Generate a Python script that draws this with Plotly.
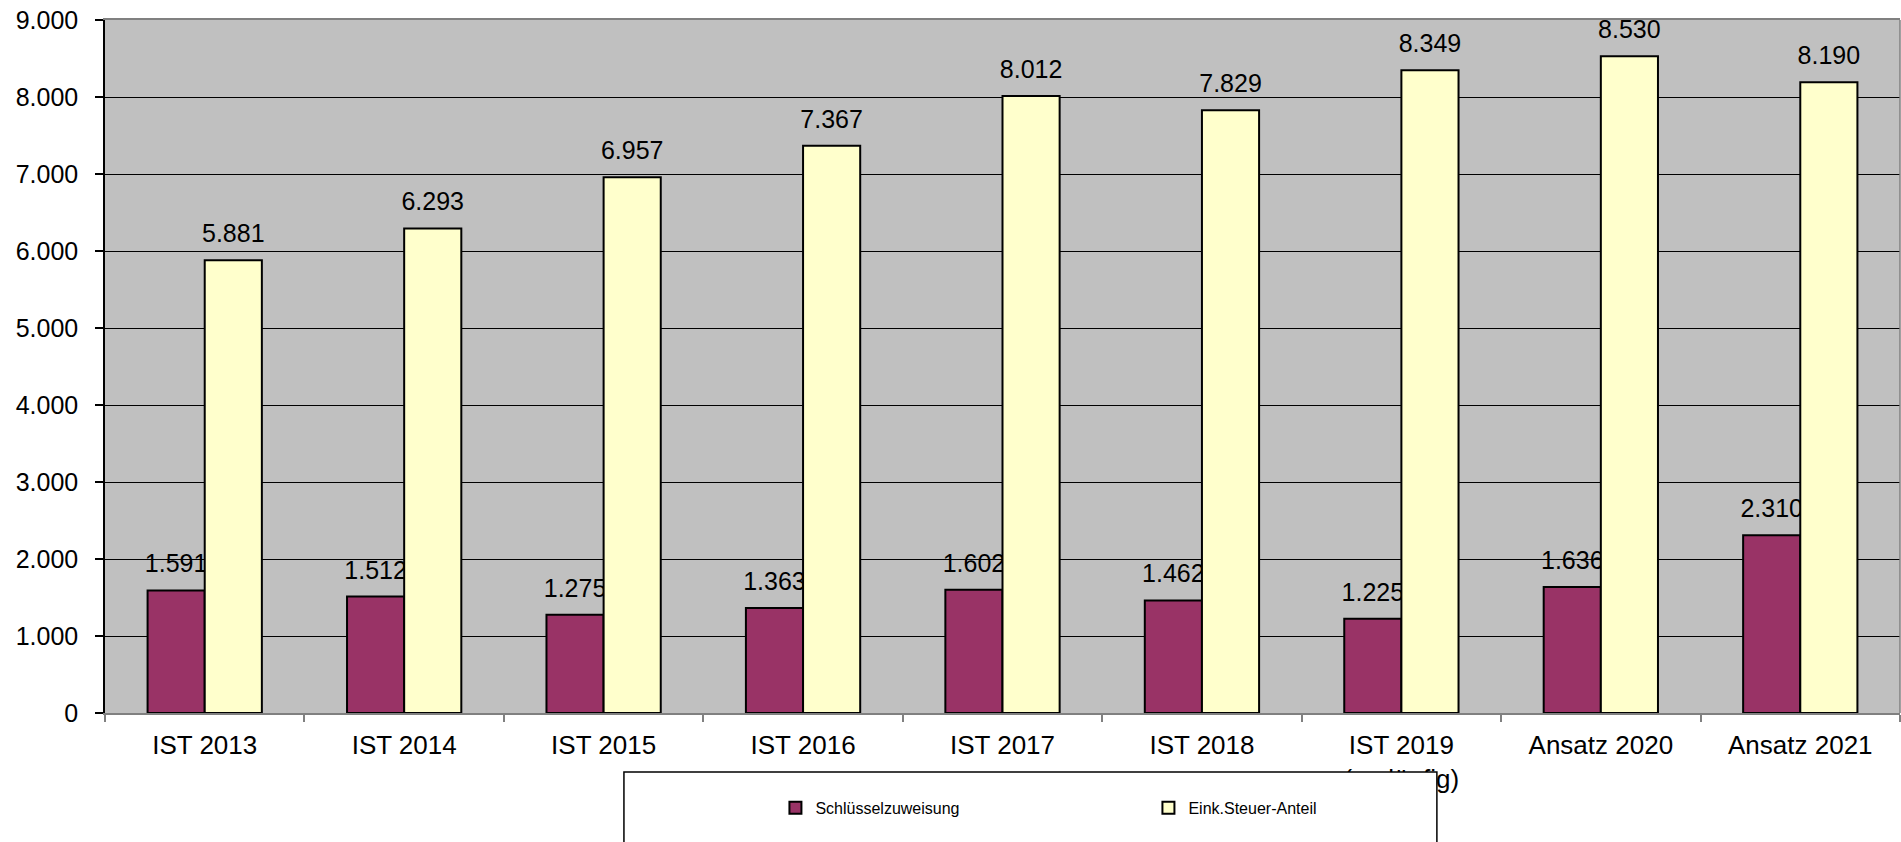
import plotly.graph_objects as go

categories = ["IST 2013", "IST 2014", "IST 2015", "IST 2016", "IST 2017",
              "IST 2018", "IST 2019<br>(vorläufig)", "Ansatz 2020", "Ansatz 2021"]
schluessel = [1591, 1512, 1275, 1363, 1602, 1462, 1225, 1636, 2310]
eink = [5881, 6293, 6957, 7367, 8012, 7829, 8349, 8530, 8190]
y_ticks = [0, 1000, 2000, 3000, 4000, 5000, 6000, 7000, 8000, 9000]

PURPLE = "#993366"
YELLOW = "#FFFFCC"
LABEL_PAD = 130  # data-unit gap between bar top and its value label
FONT = "Liberation Sans, Arial, sans-serif"

fig = go.Figure()

def add_series(name, values, color, group):
    fig.add_trace(go.Bar(
        x=categories, y=values, name=name, offsetgroup=group,
        marker=dict(color=color, line=dict(color="black", width=2)),
        showlegend=True,
    ))
    # invisible helper carrying the value label, sitting just above the bar
    fig.add_trace(go.Bar(
        x=categories, y=[LABEL_PAD] * len(values), base=values,
        offsetgroup=group, showlegend=False, hoverinfo="skip",
        marker=dict(color="rgba(0,0,0,0)", line=dict(width=0)),
        text=[f"{v:,}".replace(",", ".") for v in values],
        textposition="outside", constraintext="none", cliponaxis=False,
        textfont=dict(family=FONT, size=25, color="black"),
    ))

add_series("Schlüsselzuweisung", schluessel, PURPLE, "a")
add_series("Eink.Steuer-Anteil", eink, YELLOW, "b")

fig.update_layout(
    width=1901, height=842,
    margin=dict(l=105, r=1, t=20, b=129, autoexpand=False),
    paper_bgcolor="white", plot_bgcolor="#C0C0C0",
    barmode="group", bargap=0.427, bargroupgap=0,
    separators=",.",
    font=dict(family=FONT, color="black"),
    showlegend=True,
    legend=dict(
        orientation="h", x=0.3735, xanchor="left", y=-0.137, yanchor="middle",
        entrywidth=328, entrywidthmode="pixels",
        bgcolor="rgba(0,0,0,0)", borderwidth=0,
        font=dict(family=FONT, size=16),
    ),
    shapes=[
        dict(type="rect", xref="paper", yref="paper", x0=0.2891, x1=0.7420,
             y0=-0.0851, y1=-0.30, fillcolor="white",
             line=dict(color="black", width=1.5), layer="above"),
        dict(type="line", xref="paper", yref="paper", x0=1, x1=1, y0=0, y1=1,
             line=dict(color="#808080", width=1.5), layer="above"),
    ],
)

fig.update_xaxes(
    type="category", showline=True, linecolor="#808080", linewidth=1.5, mirror=True,
    ticks="outside", tickson="boundaries", ticklen=7, tickcolor="#808080", tickwidth=1.5,
    showgrid=False, automargin=False, ticklabelstandoff=8,
    tickfont=dict(family=FONT, size=26, color="black"),
)
fig.update_yaxes(
    range=[0, 9000], tickvals=y_ticks, tickformat=",d",
    showline=True, linecolor="black", linewidth=1.5,
    ticks="outside", ticklen=8, tickcolor="black", tickwidth=1.5,
    showgrid=True, gridcolor="black", gridwidth=1, zeroline=False,
    ticklabelstandoff=12, automargin=False,
    tickfont=dict(family=FONT, size=25, color="black"),
)

fig.write_html("out.html", config={"displayModeBar": False},
               post_script="document.body.style.margin='0';")
